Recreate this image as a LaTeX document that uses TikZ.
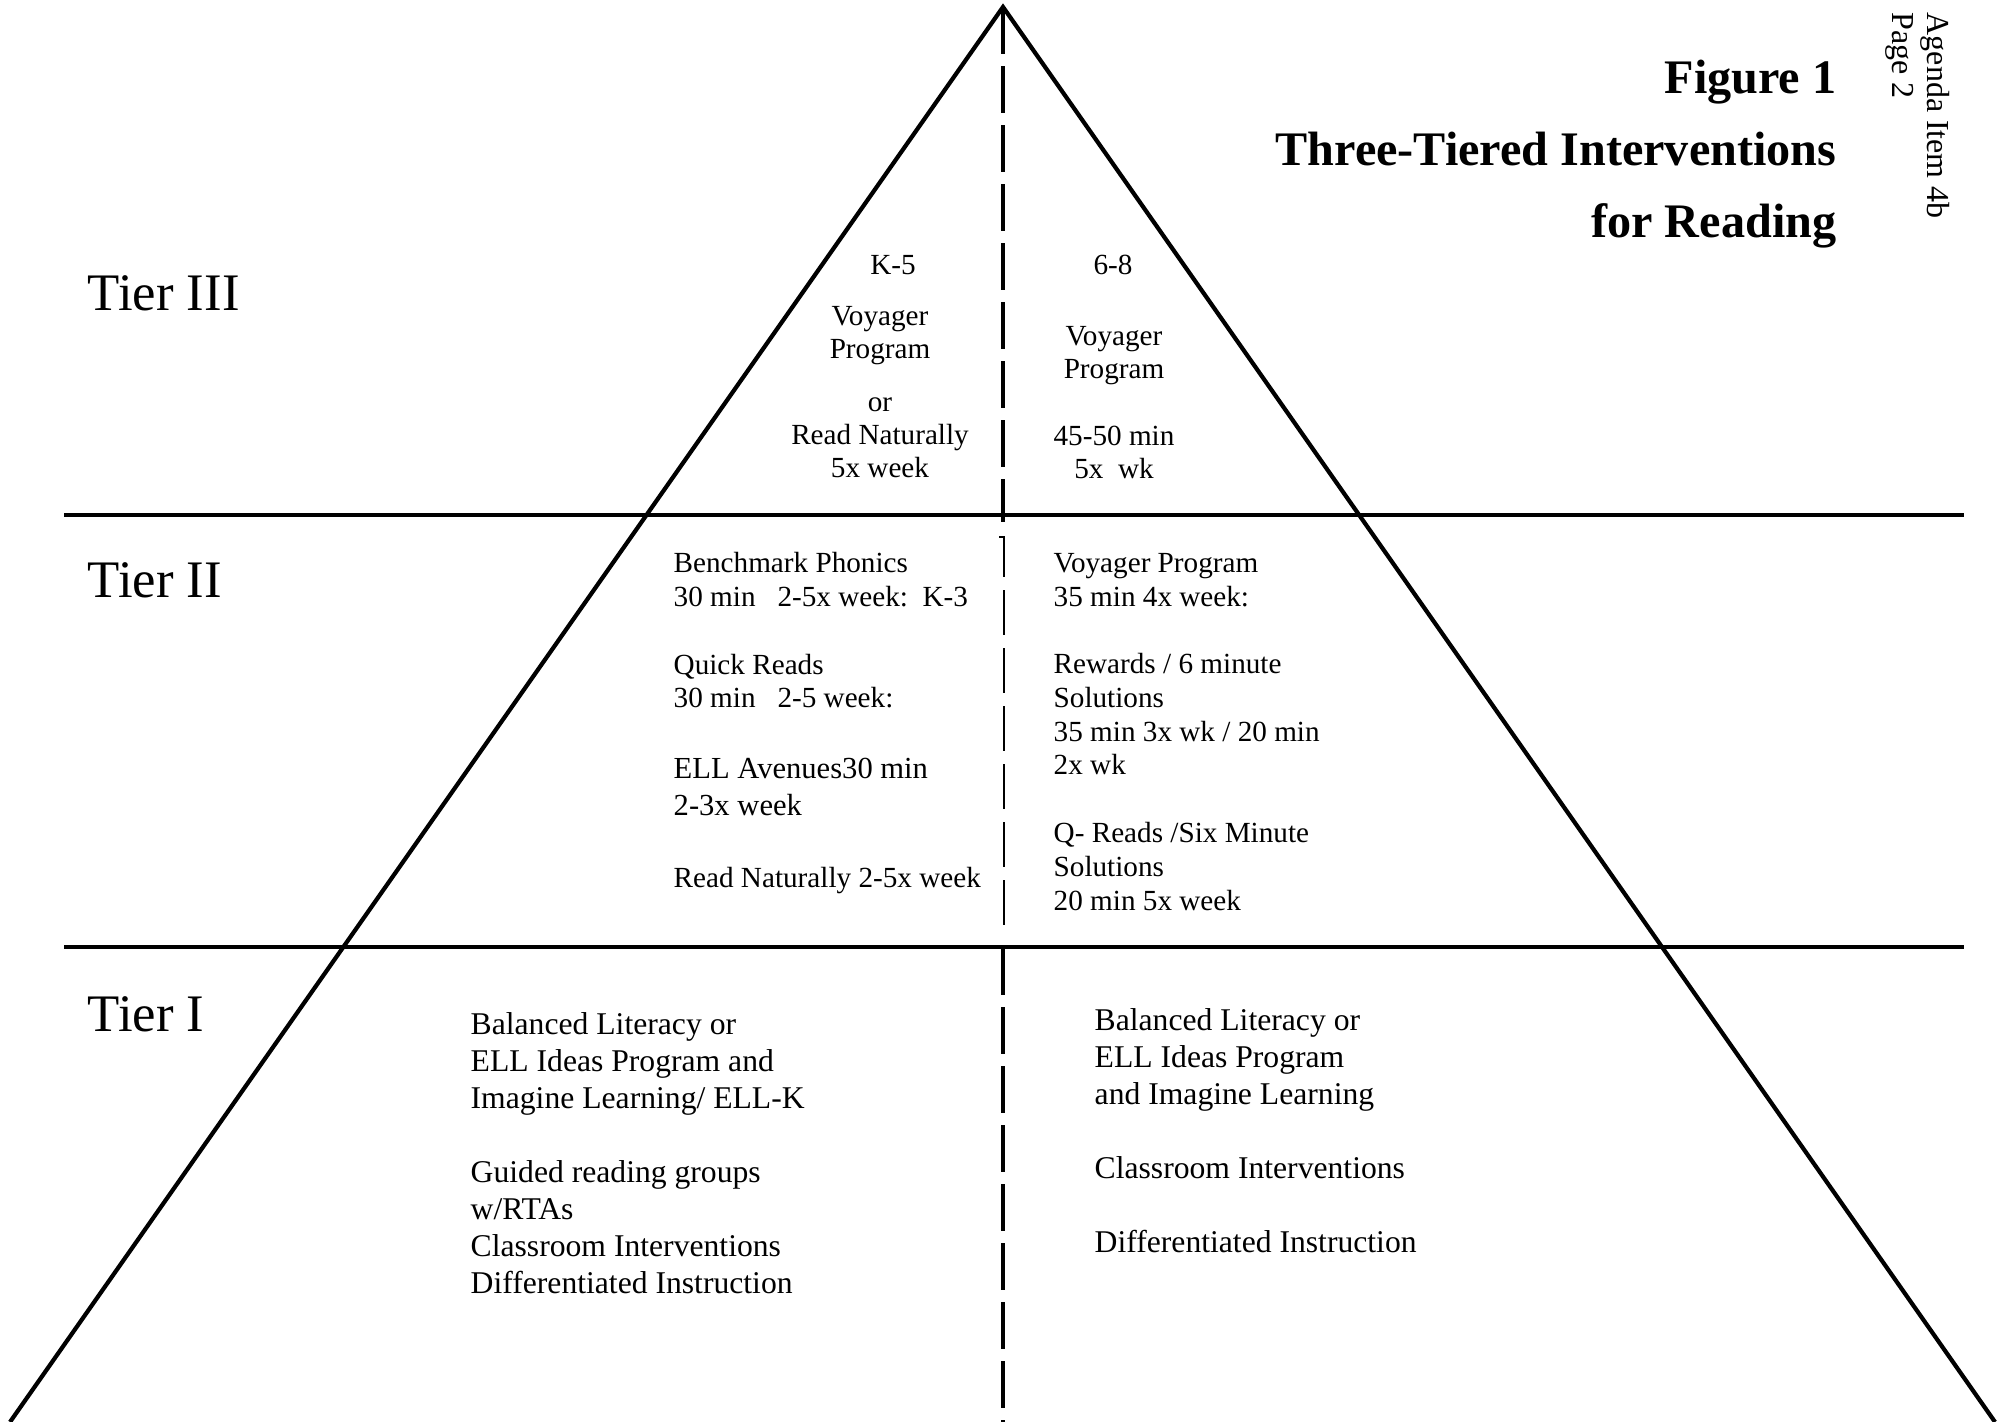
\documentclass[tikz,border=0pt]{standalone}
\usepackage{fontspec}
\setmainfont{Liberation Serif}
\usetikzlibrary{positioning}

\begin{document}
\begin{tikzpicture}[x=0.01cm,y=-0.01cm,
  edge/.style={line width=1.2pt},
  divider/.style={line width=1.2pt,dash pattern=on 0.47cm off 0.12cm},
  thindivider/.style={line width=0.8pt,dash pattern=on 0.45cm off 0.13cm},
  tierlabel/.style={anchor=base west,inner sep=0,font=\fontsize{15pt}{18pt}\selectfont},
  tiertext/.style={anchor=base west,inner sep=0,align=left,font=\fontsize{8.3pt}{9.6pt}\selectfont},
  basetext/.style={anchor=base west,inner sep=0,align=left,font=\fontsize{9pt}{10.5pt}\selectfont},
  toptext/.style={anchor=base,inner sep=0,align=center,font=\fontsize{8.3pt}{9.5pt}\selectfont}]
  \useasboundingbox (0,0) rectangle (2009,1422);
  % Pyramid
  \coordinate (apex) at (1003,7);
  \coordinate (bl) at (10,1422);
  \coordinate (br) at (1995,1422);
  \draw[edge] (bl) -- (apex) -- (br);
  \draw[edge] (64,515) -- (1964,515);
  \draw[edge] (64,947) -- (1964,947);
  % Divider
  \draw[divider] (apex) -- (1003,522);
  \draw[thindivider] (999,537) -- (1004,537) -- (1004,933) -- (999,933);
  \draw[divider] (1003,948) -- (1003,1422);
  % Title (base = last line)
  \node[anchor=base east,inner sep=0,align=right,font=\fontsize{13.7pt}{20.5pt}\selectfont\bfseries] (title) at (1837,238)
    {Figure 1\\Three-Tiered Interventions\\for Reading};
  \node[rotate=-90,anchor=base west,inner sep=0,align=left,font=\fontsize{9.1pt}{10pt}\selectfont] (agenda) at (1892,12)
    {Agenda Item 4b\\Page 2};
  % Tier labels
  \node[tierlabel] (t3) at (87,311) {Tier III};
  \node[tierlabel] (t2) at (87,598) {Tier II};
  \node[tierlabel] (t1) at (87,1031) {Tier I};
  % Tier III
  \node[toptext] (k5) at (893,275) {K-5};
  \node[toptext] (k5a) at (880,478) {Voyager\\Program\\[5.4pt]or\\Read Naturally\\5x week};
  \node[toptext] (g68) at (1113,275) {6-8};
  \node[toptext] (g68a) at (1114,479) {Voyager\\Program\\[9.6pt]45-50 min\\5x\ \ wk};
  % Tier II
  \node[tiertext] (k5b) at (673,708) {Benchmark Phonics\\30 min\ \ \ 2-5x week:\ \ K-3\\[9.6pt]Quick Reads\\30 min\ \ \ 2-5 week:};
  \node[tiertext,font=\fontsize{8.7pt}{10.5pt}\selectfont] (k5c) at (673,815) {ELL Avenues30 min\\2-3x week};
  \node[tiertext] (k5d) at (673,887) {Read Naturally 2-5x week};
  \node[tiertext] (g68b) at (1053,910) {Voyager Program\\35 min 4x week:\\[9.6pt]Rewards / 6 minute\\Solutions\\35 min 3x wk / 20 min\\2x wk\\[9.6pt]Q- Reads /Six Minute\\Solutions\\20 min 5x week};
  % Tier I
  \node[basetext] (k5e) at (470,1293) {Balanced Literacy or\\ELL Ideas Program and\\Imagine Learning/ ELL-K\\[10.5pt]Guided reading groups\\w/RTAs\\Classroom Interventions\\Differentiated Instruction};
  \node[basetext] (g68c) at (1094,1252) {Balanced Literacy or\\ELL Ideas Program\\and Imagine Learning\\[10.5pt]Classroom Interventions\\[10.5pt]Differentiated Instruction};
\end{tikzpicture}
\end{document}
